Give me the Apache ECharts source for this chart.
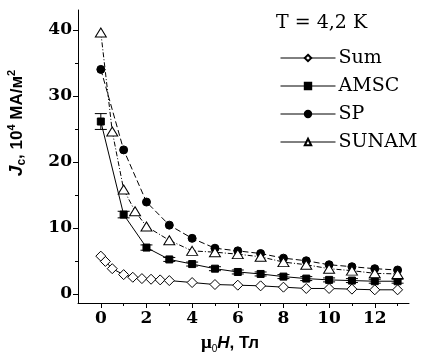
<!DOCTYPE html>
<html><head><meta charset="utf-8">
<script src="https://cdn.jsdelivr.net/npm/echarts@6/dist/echarts.min.js"></script>
<style>html,body{margin:0;padding:0;background:#fff}#c{width:424px;height:356px}</style>
</head><body><div id="c"></div>
<script>
// ---- data ----
var sumX  = [0, 0.2, 0.5, 1, 1.4, 1.8, 2.2, 2.6, 3, 4, 5, 6, 7, 8, 9, 10, 11, 12, 13];
var sumY  = [5.7, 4.9, 3.8, 2.9, 2.5, 2.3, 2.2, 2.1, 2.0, 1.7, 1.4, 1.3, 1.2, 1.0, 0.8, 0.8, 0.7, 0.6, 0.6];
var amscX = [0, 1, 2, 3, 4, 5, 6, 7, 8, 9, 10, 11, 12, 13];
var amscY = [26.1, 12.0, 7.0, 5.2, 4.5, 3.8, 3.3, 3.0, 2.6, 2.3, 2.1, 2.0, 1.9, 1.9];
var amscErr = [1.2, 0.5, 0.4, 0.3, 0.3, 0.3, 0.3, 0.3, 0.3, 0.3, 0.3, 0.3, 0.3, 0.3];
var spX   = [0, 1, 2, 3, 4, 5, 6, 7, 8, 9, 10, 11, 12, 13];
var spY   = [34.0, 21.8, 13.9, 10.4, 8.4, 6.9, 6.5, 6.1, 5.4, 5.0, 4.4, 4.1, 3.8, 3.6];
var sunX  = [0, 0.5, 1, 1.5, 2, 3, 4, 5, 6, 7, 8, 9, 10, 11, 12, 13];
var sunY  = [39.6, 24.6, 15.8, 12.5, 10.2, 8.1, 6.5, 6.3, 6.0, 5.6, 4.8, 4.4, 3.8, 3.5, 3.1, 3.0];
var yMajor = [0, 10, 20, 30, 40];
var yMinor = [5, 15, 25, 35];
var xMajor = [0, 2, 4, 6, 8, 10, 12];
var xMinor = [1, 3, 5, 7, 9, 11, 13];
var seriesNames = ['Sum', 'AMSC', 'SP', 'SUNAM'];

function pairs(xs, ys){ return xs.map(function(x,i){ return [x, ys[i]]; }); }

var chart = echarts.init(document.getElementById('c'), null, {renderer:'canvas'});
var serif = 'DejaVu Serif';
var sans = 'Liberation Sans';
var black = '#000';

var option = {
  animation: false,
  backgroundColor: '#fff',
  grid: {left: 78, right: 15, top: 10, bottom: 53, containLabel: false},
  xAxis: [{
    type: 'value', min: -1, max: 13.5, position: 'bottom',
    axisLine: {show: true, onZero: false, lineStyle: {color: black, width: 1}},
    axisTick: {show: true, inside: false, length: 5, customValues: xMajor, lineStyle: {color: black}},
    axisLabel: {show: true, customValues: xMajor, color: black, fontFamily: serif, fontWeight: 'bold', fontSize: 17, margin: 7},
    splitLine: {show: false}
  }, {
    type: 'value', min: -1, max: 13.5, position: 'bottom',
    axisLine: {show: false, onZero: false},
    axisTick: {show: true, inside: false, length: 3, customValues: xMinor, lineStyle: {color: black}},
    axisLabel: {show: false},
    splitLine: {show: false}
  }],
  yAxis: [{
    type: 'value', min: -1.4, max: 43, position: 'left',
    axisLine: {show: true, onZero: false, lineStyle: {color: black, width: 1}},
    axisTick: {show: true, inside: false, length: 5, customValues: yMajor, lineStyle: {color: black}},
    axisLabel: {show: true, customValues: yMajor, color: black, fontFamily: serif, fontWeight: 'bold', fontSize: 17, margin: 6},
    splitLine: {show: false}
  }, {
    type: 'value', min: -1.4, max: 43, position: 'left',
    axisLine: {show: false, onZero: false},
    axisTick: {show: true, inside: false, length: 3, customValues: yMinor, lineStyle: {color: black}},
    axisLabel: {show: false},
    splitLine: {show: false}
  }],
  legend: {
    data: seriesNames,
    orient: 'vertical', left: 275, top: 43,
    itemWidth: 55, itemHeight: 8, itemGap: 8,
    lineStyle: {type: 'solid', width: 1, color: black},
    textStyle: {color: black, fontFamily: serif, fontSize: 19, lineHeight: 20, padding: [0,0,0,-2]},
    selectedMode: false
  },
  graphic: [{
    type: 'text', left: 276, top: 14,
    style: {text: 'T = 4,2 K', fill: black, font: '19px "DejaVu Serif"'}
  }, {
    type: 'text', x: 17, y: 123, rotation: Math.PI/2,
    style: {
      text: '{j|J}{sub|c}{n|, 10}{sup|4}{n| МА/м}{sup|2}',
      align: 'center', verticalAlign: 'middle',
      rich: {
        j: {fontFamily: sans, fontStyle: 'italic', fontWeight: 'bold', fontSize: 19, fill: black, lineHeight: 22, verticalAlign: 'middle'},
        sub: {fontFamily: sans, fontWeight: 'bold', fontSize: 12, fill: black, verticalAlign: 'bottom', lineHeight: 22},
        n: {fontFamily: sans, fontWeight: 'bold', fontSize: 17, fill: black, lineHeight: 22, verticalAlign: 'middle'},
        sup: {fontFamily: sans, fontWeight: 'bold', fontSize: 11, fill: black, verticalAlign: 'top', lineHeight: 22}
      }
    }
  }, {
    type: 'text', x: 230, y: 343,
    style: {
      text: '{mu|μ}{sub|0}{h|H}{n|, Тл}',
      align: 'center', verticalAlign: 'middle',
      rich: {
        mu: {fontFamily: 'Liberation Serif', fontWeight: 'bold', fontSize: 19, fill: black, lineHeight: 22, verticalAlign: 'middle'},
        sub: {fontFamily: sans, fontSize: 10, fill: black, verticalAlign: 'bottom', lineHeight: 22},
        h: {fontFamily: sans, fontStyle: 'italic', fontWeight: 'bold', fontSize: 17, fill: black, lineHeight: 22, verticalAlign: 'middle'},
        n: {fontFamily: sans, fontWeight: 'bold', fontSize: 17, fill: black, lineHeight: 22, verticalAlign: 'middle'}
      }
    }
  }],
  series: [{
    name: 'Sum', type: 'line', data: pairs(sumX, sumY),
    symbol: 'diamond', symbolSize: 10, showAllSymbol: true,
    lineStyle: {color: black, width: 1, type: 'solid'},
    itemStyle: {color: '#fff', borderColor: black, borderWidth: 1}, z: 2
  }, {
    name: 'AMSC', type: 'line', data: pairs(amscX, amscY),
    symbol: 'rect', symbolSize: 7, showAllSymbol: true,
    lineStyle: {color: black, width: 1, type: 'solid'},
    itemStyle: {color: black, borderColor: black, borderWidth: 1}, z: 3
  }, {
    name: 'AMSC-err', type: 'custom',
    data: amscX.map(function(x,i){ return [x, amscY[i], amscErr[i]]; }),
    renderItem: function(params, api){
      var x = api.value(0), y = api.value(1), e = api.value(2);
      var p1 = api.coord([x, y + e]), p2 = api.coord([x, y - e]);
      var hw = 6;
      var st = {stroke: black, lineWidth: 1};
      return {type: 'group', children: [
        {type: 'line', shape: {x1: p1[0], y1: p1[1], x2: p2[0], y2: p2[1]}, style: st},
        {type: 'line', shape: {x1: p1[0]-hw, y1: p1[1], x2: p1[0]+hw, y2: p1[1]}, style: st},
        {type: 'line', shape: {x1: p2[0]-hw, y1: p2[1], x2: p2[0]+hw, y2: p2[1]}, style: st}
      ]};
    }, z: 3
  }, {
    name: 'SP', type: 'line', data: pairs(spX, spY),
    symbol: 'circle', symbolSize: 8, showAllSymbol: true,
    lineStyle: {color: black, width: 1, type: [6, 3]},
    itemStyle: {color: black, borderColor: black, borderWidth: 1}, z: 4
  }, {
    name: 'SUNAM', type: 'line', data: pairs(sunX, sunY),
    symbol: 'triangle', symbolSize: [11, 9], showAllSymbol: true,
    lineStyle: {color: black, width: 1, type: [5, 2, 1, 2]},
    itemStyle: {color: '#fff', borderColor: black, borderWidth: 1}, z: 5
  }]
};
chart.setOption(option);
</script>
</body></html>
